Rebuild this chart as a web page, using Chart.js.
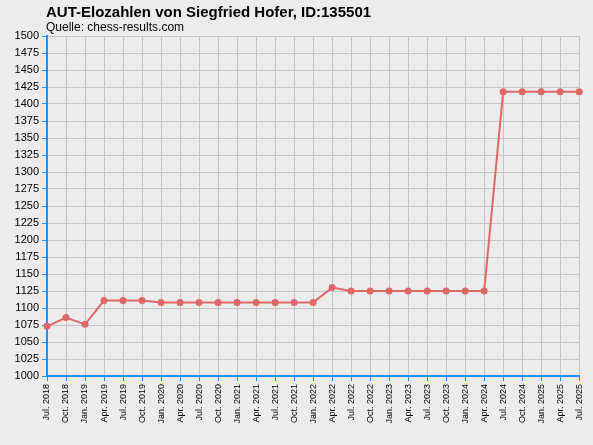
<!DOCTYPE html><html><head><script src="https://cdn.jsdelivr.net/npm/chart.js@4"></script>
<style>body{margin:0;background:#ececec}#w{position:relative;width:593px;height:445px}</style></head><body><div id="w"><canvas id="c" width="593" height="445"></canvas></div>
<script>
const categories=["Jul. 2018","Oct. 2018","Jan. 2019","Apr. 2019","Jul. 2019","Oct. 2019","Jan. 2020","Apr. 2020","Jul. 2020","Oct. 2020","Jan. 2021","Apr. 2021","Jul. 2021","Oct. 2021","Jan. 2022","Apr. 2022","Jul. 2022","Oct. 2022","Jan. 2023","Apr. 2023","Jul. 2023","Oct. 2023","Jan. 2024","Apr. 2024","Jul. 2024","Oct. 2024","Jan. 2025","Apr. 2025","Jul. 2025"];
const elo=[1073,1086,1076,1111,1111,1111,1108,1108,1108,1108,1108,1108,1108,1108,1108,1130,1125,1125,1125,1125,1125,1125,1125,1125,1418,1418,1418,1418,1418];
const titleText='AUT-Elozahlen von Siegfried Hofer, ID:135501';
const sourceText='Quelle: chess-results.com';
const bg={id:'bg',beforeDraw(c){const x=c.ctx;x.save();x.fillStyle='#ececec';x.fillRect(0,0,c.width,c.height);
x.fillStyle='#000';x.textBaseline='alphabetic';x.font='bold 15px "Liberation Sans"';x.fillText(titleText,46,17);
x.font='12px "Liberation Sans"';x.fillText(sourceText,46,31);x.restore();}};
new Chart(document.getElementById('c'),{type:'line',data:{labels:categories,datasets:[{data:elo,borderColor:'#de6868',backgroundColor:'#de6868',borderWidth:2,pointRadius:2.5,tension:0}]},
options:{responsive:false,animation:false,layout:{padding:{left:0,right:9,top:36,bottom:0}},
plugins:{legend:{display:false},tooltip:{enabled:false}},
scales:{x:{offset:false,afterFit(s){s.height=69;},grid:{color:'#c4c4c4',tickColor:'#1e90ff',tickLength:5},border:{color:'#1e90ff',width:2},ticks:{color:'#000',font:{family:'Liberation Sans',size:9},minRotation:90,maxRotation:90,autoSkip:false}},
y:{min:1000,max:1500,afterFit(s){s.width=47;},grid:{color:'#c4c4c4',tickColor:'#1e90ff',tickLength:5},border:{color:'#1e90ff',width:2},ticks:{stepSize:25,color:'#000',font:{family:'Liberation Sans',size:11},callback:v=>String(v)}}}},plugins:[bg]});
</script></div></body></html>
